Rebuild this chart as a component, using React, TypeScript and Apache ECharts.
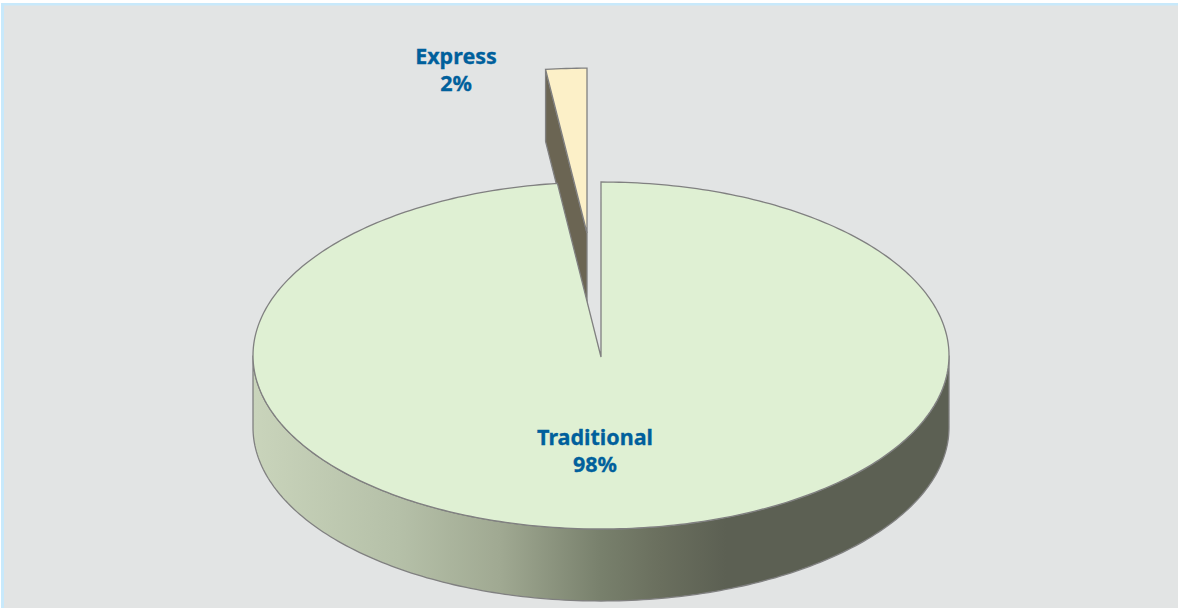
import React, { useEffect, useRef } from "react";
import * as echarts from "echarts";

const categories = ["Traditional", "Express"];
const shares = [98, 2];
const percentLabels = ["98%", "2%"];
const sliceFills = ["#dff0d3", "#fcf0c8"];

const W = 1178;
const H = 608;
const CX = 601;
const CY = 355.5;
const APEX_Y = 357;
const RX = 348;
const RY = 173.5;
const DEPTH = 72;
const EXPLODE = { dx: -14, dy: -122.5, scale: 0.95 };
const TEXT = "#00609c";
const EDGE = "#808080";
const EDGE_WIDTH = 1.3;
const LABEL_FONT = "bold 21.5px 'Noto Sans'";

const pt = (deg: number, ox = 0, oy = 0, s = 1, dz = 0): number[] => {
  const r = (deg * Math.PI) / 180;
  return [CX + ox + RX * s * Math.sin(r), CY + oy + RY * s * -Math.cos(r) + dz];
};

const arc = (a0: number, a1: number, ox = 0, oy = 0, s = 1, dz = 0): number[][] => {
  const n = Math.max(2, Math.ceil(Math.abs(a1 - a0)));
  const out: number[][] = [];
  for (let i = 0; i <= n; i++) out.push(pt(a0 + ((a1 - a0) * i) / n, ox, oy, s, dz));
  return out;
};

const total = shares.reduce((a, b) => a + b, 0);

function renderSlice(_params: any, api: any) {
  const idx = api.value(0) as number;
  const share = api.value(1) as number;
  const sweep = (share / total) * 360;
  const children: any[] = [];
  const labelStyle = {
    fill: TEXT,
    stroke: TEXT,
    lineWidth: 0.3,
    font: LABEL_FONT,
    align: "center",
    verticalAlign: "middle",
    lineHeight: 27,
  };
  if (idx === 0) {
    const wall = [...arc(90, 270), ...arc(270, 90, 0, 0, 1, DEPTH)];
    children.push({
      type: "polygon",
      z2: 1,
      shape: { points: wall },
      style: {
        fill: new echarts.graphic.LinearGradient(0, 0, 1, 0, [
          { offset: 0, color: "#c9d4bb" },
          { offset: 0.21, color: "#b5c0a8" },
          { offset: 0.355, color: "#a0a992" },
          { offset: 0.5, color: "#78806c" },
          { offset: 0.585, color: "#6a6f5e" },
          { offset: 0.68, color: "#5c6053" },
          { offset: 1, color: "#5c6053" },
        ]),
        stroke: EDGE,
        lineWidth: EDGE_WIDTH,
      },
    });
    children.push({
      type: "polygon",
      z2: 3,
      shape: { points: [[CX, APEX_Y], ...arc(0, sweep)] },
      style: { fill: sliceFills[0], stroke: EDGE, lineWidth: EDGE_WIDTH },
    });
    children.push({
      type: "text",
      z2: 5,
      style: { ...labelStyle, x: 595, y: 449.5, text: `${categories[0]}\n${percentLabels[0]}` },
    });
  } else {
    const a0 = 360 - sweep;
    const { dx, dy, scale } = EXPLODE;
    const apex = [CX + dx, CY + dy];
    const rim = arc(a0, 360, dx, dy, scale);
    const left = rim[0];
    children.push({
      type: "polygon",
      z2: 2,
      shape: {
        points: [left, apex, [apex[0], apex[1] + DEPTH], [left[0], left[1] + DEPTH]],
      },
      style: { fill: "#6b6553", stroke: EDGE, lineWidth: EDGE_WIDTH },
    });
    children.push({
      type: "polygon",
      z2: 4,
      shape: { points: [apex, ...rim] },
      style: { fill: sliceFills[1], stroke: EDGE, lineWidth: EDGE_WIDTH },
    });
    children.push({
      type: "text",
      z2: 5,
      style: { ...labelStyle, x: 456, y: 68.5, text: `${categories[1]}\n${percentLabels[1]}` },
    });
  }
  return { type: "group", children };
}

export default function App() {
  const ref = useRef<HTMLDivElement>(null);
  useEffect(() => {
    const chart = echarts.init(ref.current!, undefined, { renderer: "svg" });
    chart.setOption({
      animation: false,
      backgroundColor: "#e2e4e4",
      graphic: [
        { type: "rect", silent: true, z: -1, shape: { x: 0, y: 0, width: W, height: 3 }, style: { fill: "#ffffff" } },
        { type: "rect", silent: true, z: -1, shape: { x: 0, y: 3, width: W, height: 2.5 }, style: { fill: "#c8e9fb" } },
        { type: "rect", silent: true, z: -1, shape: { x: 0, y: 3, width: 1, height: H }, style: { fill: "#ffffff" } },
        { type: "rect", silent: true, z: -1, shape: { x: 1, y: 3, width: 3, height: H }, style: { fill: "#c8e9fb" } },
      ],
      series: [
        {
          type: "custom",
          coordinateSystem: "none",
          silent: true,
          renderItem: renderSlice,
          data: categories.map((c, i) => ({ name: c, value: [i, shares[i]] })),
        },
      ],
    });
    return () => chart.dispose();
  }, []);
  return (
    <div
      ref={ref}
      style={{ position: "fixed", left: 0, top: 0, width: W, height: H }}
    />
  );
}
